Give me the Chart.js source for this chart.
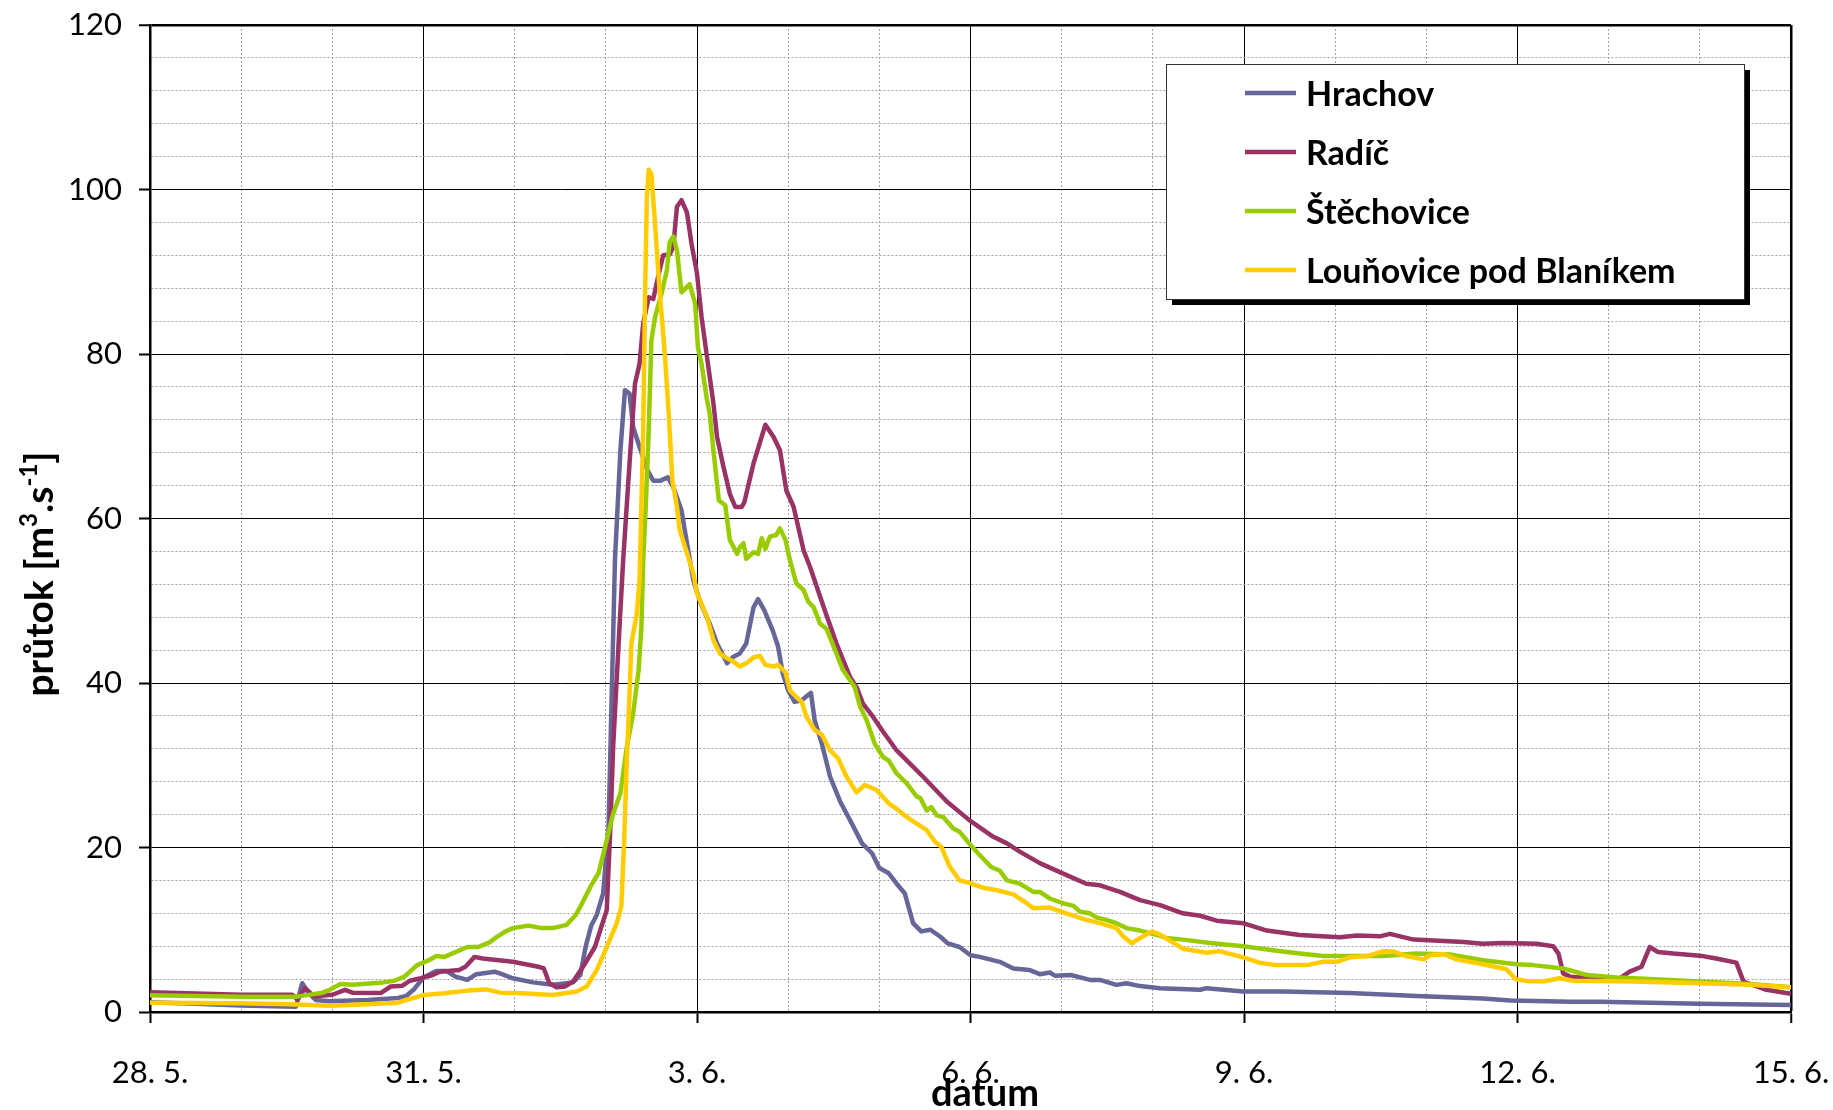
<!DOCTYPE html>
<html>
<head>
<meta charset="utf-8">
<title>průtok</title>
<script src="https://cdn.jsdelivr.net/npm/chart.js@4.4.1/dist/chart.umd.min.js"></script>
<style>
    html, body { margin: 0; padding: 0; background: #fff; }
    #wrap { width: 1833px; height: 1110px; }
</style>
</head>
<body>
<div id="wrap"><canvas id="flowChart" width="1833" height="1110"></canvas></div>
<script>
// x = days since 28. 5. (00:00), y = flow in m3/s
const dayLabels = ["28. 5.", "31. 5.", "3. 6.", "6. 6.", "9. 6.", "12. 6.", "15. 6."];
const seriesNames = ["Hrachov", "Radíč", "Štěchovice", "Louňovice pod Blaníkem"];
const seriesColors = ["#666699", "#993366", "#99cc00", "#ffcc00"];

const hrachovT = [0, 0.5, 1, 1.6, 1.67, 1.74, 1.82, 1.97, 2.39, 2.72, 2.81, 2.9, 3, 3.14, 3.25, 3.35, 3.48, 3.58, 3.78, 3.86, 3.98,
    4.2, 4.42, 4.64, 4.72, 4.78, 4.84, 4.9, 4.97, 5.03, 5.1, 5.16, 5.21, 5.26, 5.3, 5.37, 5.45, 5.52, 5.6, 5.68, 5.74, 5.83,
    5.89, 5.96, 6.03, 6.14, 6.22, 6.33, 6.4, 6.47, 6.54, 6.62, 6.67, 6.74, 6.83, 6.89, 6.94, 7, 7.07, 7.15, 7.25, 7.29, 7.37,
    7.46, 7.57, 7.68, 7.81, 7.92, 8, 8.1, 8.19, 8.28, 8.37, 8.46, 8.56, 8.67, 8.75, 8.88, 9, 9.1, 9.32, 9.47, 9.65, 9.76,
    9.87, 9.93, 10.1, 10.31, 10.42, 10.6, 10.71, 10.86, 11.08, 11.52, 11.59, 11.99, 12.43, 13.16, 13.89, 14.62, 14.92,
    15.58, 15.9, 17, 18];
const hrachovQ = [1.2, 1.0, 0.8, 0.65, 3.5, 2.3, 1.45, 1.3, 1.45, 1.7, 1.95, 2.8, 4.2, 5.0, 5.0, 4.3, 3.9, 4.6, 4.9, 4.6, 4.1,
    3.6, 3.3, 3.6, 4.5, 8.0, 10.5, 11.8, 14.4, 22.5, 54.9, 68.3, 75.6, 75.2, 71.1, 68.7, 66, 64.6, 64.6, 65, 63.8, 61,
    57, 52.5, 50, 47.2, 44.8, 42.4, 43.2, 43.6, 44.8, 49.2, 50.2, 48.8, 46.4, 44.4, 41.2, 39.1, 37.7, 37.9, 38.8, 35.5, 32.6,
    28.6, 25.6, 23.3, 20.5, 19.3, 17.5, 16.9, 15.6, 14.4, 10.8, 9.8, 10, 9.15, 8.35, 7.9, 6.9, 6.7, 6.1, 5.3, 5.1, 4.6,
    4.8, 4.4, 4.5, 3.9, 3.9, 3.3, 3.5, 3.15, 2.9, 2.7, 2.9, 2.5, 2.5, 2.3, 1.95, 1.65, 1.4,
    1.25, 1.25, 1.0, 0.85];

const radicT = [0, 1, 1.56, 1.62, 1.7, 1.8, 2, 2.14, 2.22, 2.53, 2.64, 2.77, 2.85, 2.97, 3.1, 3.18, 3.39, 3.46, 3.56, 3.65,
    3.98, 4.26, 4.32, 4.38, 4.46, 4.55, 4.64, 4.75, 4.88, 5.01, 5.05, 5.08, 5.14, 5.19, 5.26, 5.32, 5.37, 5.41, 5.47, 5.52,
    5.59, 5.63, 5.7, 5.74, 5.78, 5.83, 5.89, 5.94, 6, 6.05, 6.11, 6.18, 6.22, 6.29, 6.36, 6.42, 6.49, 6.52, 6.62, 6.75,
    6.84, 6.91, 6.98, 7.06, 7.17, 7.24, 7.39, 7.53, 7.68, 7.75, 7.82, 7.93, 8.04, 8.19, 8.3, 8.48, 8.74, 8.99, 9.25, 9.4,
    9.54, 9.76, 9.98, 10.27, 10.42, 10.64, 10.86, 11.08, 11.33, 11.52, 11.7, 11.99, 12.25, 12.61, 13.05, 13.24, 13.49, 13.6,
    13.86, 14.08, 14.41, 14.62, 14.84, 15.21, 15.39, 15.45, 15.5, 15.58, 15.79, 16.12, 16.23, 16.36, 16.45, 16.54, 16.71,
    17, 17.18, 17.4, 17.48, 17.73, 18];
const radicQ = [2.4, 2.1, 2.1, 1.5, 2.9, 1.9, 2.1, 2.7, 2.35, 2.3, 3.1, 3.2, 3.8, 4.1, 4.5, 4.9, 5.1, 5.5, 6.7, 6.5,
    6.1, 5.5, 5.3, 3.5, 3.0, 3.1, 3.7, 5.5, 7.9, 12.4, 22.5, 32.2, 44.8, 54.9, 66.7, 76.4, 78.8, 83.7, 86.9, 86.7,
    90.2, 92, 92.1, 93, 97.9, 98.7, 97.2, 93.4, 89.8, 84.5, 79.6, 74, 69.9, 66.3, 63, 61.4, 61.4, 62, 66.7, 71.4,
    69.9, 68.3, 63.4, 61.4, 56.1, 54.1, 49.2, 44.8, 40.7, 39.5, 37.5, 35.9, 34.1, 31.8, 30.6, 28.6, 25.6, 23.3, 21.3, 20.5,
    19.5, 18.1, 17, 15.6, 15.4, 14.6, 13.6, 13, 12, 11.7, 11.1, 10.8, 9.9, 9.35, 9.1, 9.3, 9.2, 9.5,
    8.8, 8.7, 8.5, 8.3, 8.4, 8.3, 8.0, 7.1, 4.7, 4.3, 4.1, 4.1, 4.9, 5.5, 7.9, 7.3, 7.1,
    6.85, 6.5, 6.0, 3.7, 2.7, 2.2];

const stechoviceT = [0, 1, 1.6, 1.72, 1.88, 1.97, 2.09, 2.22, 2.56, 2.68, 2.79, 2.93, 3.06, 3.14, 3.23, 3.48, 3.6, 3.73, 3.8,
    3.9, 3.98, 4.15, 4.3, 4.42, 4.57, 4.67, 4.72, 4.83, 4.92, 5.01, 5.08, 5.16, 5.23, 5.3, 5.36, 5.39, 5.41, 5.44, 5.47, 5.5,
    5.54, 5.61, 5.67, 5.7, 5.74, 5.78, 5.83, 5.92, 5.98, 6.01, 6.05, 6.11, 6.14, 6.18, 6.24, 6.31, 6.36, 6.44, 6.47, 6.51,
    6.54, 6.62, 6.67, 6.71, 6.75, 6.8, 6.87, 6.91, 6.97, 7.02, 7.09, 7.17, 7.22, 7.28, 7.35, 7.42, 7.5, 7.6, 7.68, 7.73,
    7.79, 7.86, 7.95, 8.04, 8.1, 8.19, 8.3, 8.41, 8.45, 8.52, 8.57, 8.63, 8.7, 8.81, 8.88, 9, 9.1, 9.23, 9.32, 9.4, 9.54,
    9.69, 9.76, 9.87, 10.02, 10.13, 10.2, 10.31, 10.38, 10.49, 10.6, 10.71, 10.86, 11.08, 11.15, 11.33, 11.63, 11.99,
    12.36, 12.61, 12.87, 13.53, 13.89, 14.26, 14.62, 14.99, 15.17, 15.5, 15.76, 16.09, 16.45, 17, 17.55, 18];
const stechoviceQ = [2.05, 1.86, 1.86, 2.05, 2.3, 2.7, 3.4, 3.3, 3.6, 3.8, 4.3, 5.7, 6.3, 6.8, 6.7, 7.9, 7.9, 8.5, 9.1,
    9.8, 10.2, 10.5, 10.2, 10.2, 10.6, 11.8, 12.8, 15.2, 16.9, 20.9, 24.1, 26.6, 32.2, 36.3, 41.6, 46.8, 54.9, 62, 70.7, 81.7,
    84.5, 87.3, 90.2, 93.6, 94.3, 92.6, 87.5, 88.5, 86.1, 80.8, 78.8, 74.4, 72.7, 68.3, 62.2, 61.6, 57.4, 55.7, 56.5, 57,
    55.1, 55.9, 55.7, 57.6, 56.3, 57.8, 58, 58.8, 57.4, 54.9, 52.1, 51.3, 49.9, 49.2, 47.2, 46.6, 44.4, 41.6, 40.3, 39.5,
    37.1, 35.5, 32.6, 31, 30.6, 29, 27.8, 26.2, 26, 24.5, 24.9, 23.9, 23.7, 22.3, 21.9, 20.3, 19.1, 17.6, 17.2, 16, 15.6,
    14.6, 14.6, 13.8, 13.2, 12.9, 12.2, 12, 11.5, 11.2, 10.8, 10.2, 9.9, 9.25, 9.0, 8.8, 8.4, 8.0,
    7.45, 7.1, 6.8, 6.8, 7.1, 7.0, 6.3, 5.8, 5.7, 5.3, 4.5, 4.2, 4.0, 3.7, 3.4, 3.0];

const lounoviceT = [0, 1, 1.55, 1.97, 2.39, 2.72, 2.81, 3, 3.23, 3.48, 3.69, 3.84, 4.07, 4.42, 4.68, 4.79, 4.9, 5.01, 5.12,
    5.17, 5.2, 5.23, 5.26, 5.28, 5.34, 5.37, 5.41, 5.43, 5.45, 5.47, 5.5, 5.54, 5.59, 5.65, 5.69, 5.73, 5.78, 5.81, 5.89,
    5.96, 6, 6.11, 6.18, 6.25, 6.33, 6.4, 6.47, 6.54, 6.62, 6.69, 6.75, 6.84, 6.89, 6.97, 7.02, 7.07, 7.15, 7.2, 7.29, 7.37,
    7.46, 7.55, 7.64, 7.75, 7.84, 7.97, 8.1, 8.19, 8.3, 8.41, 8.52, 8.61, 8.68, 8.77, 8.88, 8.99, 9.14, 9.29, 9.47, 9.62,
    9.69, 9.87, 10.05, 10.27, 10.42, 10.6, 10.68, 10.77, 10.86, 10.99, 11.08, 11.33, 11.59, 11.73, 11.99, 12.17, 12.36,
    12.69, 12.87, 13.02, 13.16, 13.35, 13.53, 13.64, 13.78, 13.97, 14.04, 14.19, 14.33, 14.62, 14.88, 14.98, 15.1, 15.28,
    15.46, 15.61, 16.27, 17, 17.55, 18];
const lounoviceQ = [1.13, 1.05, 0.93, 0.77, 0.93, 1.13, 1.46, 2.06, 2.27, 2.6, 2.75, 2.35, 2.27, 2.07, 2.5, 3.1, 5.1, 7.9, 10.8,
    12.8, 20.5, 30.6, 38.7, 44.8, 48.4, 52.5, 70.7, 86.9, 99.1, 102.4, 101.9, 95.8, 87.7, 79.6, 72.7, 64.6, 61.4, 58.6, 55.8,
    53.3, 50.9, 48, 45.2, 43.6, 43, 42.6, 42, 42.4, 43.1, 43.3, 42.2, 42, 42.2, 41.3, 39.1, 38.5, 37.7, 35.9, 34.3, 33.7,
    31.8, 30.8, 28.6, 26.7, 27.6, 27, 25.4, 24.7, 23.7, 22.9, 22.1, 20.7, 20.1, 17.7, 16, 15.7, 15.1, 14.8, 14.3, 13.2,
    12.6, 12.7, 12, 11.2, 10.8, 10.2, 9.15, 8.35, 9.0, 9.8, 9.4, 7.7, 7.2, 7.4, 6.65, 6.0, 5.7,
    5.7, 6.1, 6.1, 6.65, 6.8, 7.4, 7.35, 6.8, 6.4, 6.9, 7.05, 6.4, 5.8, 5.2, 4.0, 3.77, 3.7,
    4.1, 3.8, 3.7, 3.5, 3.3, 3.0];

const seriesT = [hrachovT, radicT, stechoviceT, lounoviceT];
const seriesQ = [hrachovQ, radicQ, stechoviceQ, lounoviceQ];

// Excel-like legend box with a hard shadow, top right inside the plot
const legendBox = {
    id: "legendBox",
    afterDraw(chart) {
        const c = chart.ctx;
        const area = chart.chartArea;
        const left = area.right - 625;
        const top = area.top + 39;
        const w = 578, h = 235;
        c.save();
        c.fillStyle = "#000";
        c.fillRect(left + 6, top + 6, w, h);
        c.fillStyle = "#fff";
        c.fillRect(left, top, w, h);
        c.strokeStyle = "#333";
        c.lineWidth = 1;
        c.strokeRect(left + 0.5, top + 0.5, w, h);
        c.font = "bold 34px Lato";
        c.textBaseline = "middle";
        c.textAlign = "left";
        chart.data.datasets.forEach((ds, i) => {
            const y = top + 29 + i * 59;
            c.strokeStyle = ds.borderColor;
            c.lineWidth = 4.5;
            c.beginPath();
            c.moveTo(left + 79, y);
            c.lineTo(left + 130, y);
            c.stroke();
            c.fillStyle = "#000";
            c.fillText(ds.label, left + 140, y + 2);
        });
        c.restore();
    }
};

// axis titles (y title needs superscripts)
const axisTitles = {
    id: "axisTitles",
    afterDraw(chart) {
        const c = chart.ctx;
        c.save();
        c.fillStyle = "#000";
        c.font = "bold 38px Lato";
        c.textAlign = "center";
        c.textBaseline = "alphabetic";
        c.fillText("datum", 985, 1106);

        const parts = [["průtok [m", false], ["3", true], [".s", false], ["-1", true], ["]", false]];
        const big = "bold 39px Lato";
        const small = "bold 24px Lato";
        let total = 0;
        parts.forEach(p => {
            c.font = p[1] ? small : big;
            total += c.measureText(p[0]).width;
        });
        c.translate(53, 574);
        c.rotate(-Math.PI / 2);
        c.textAlign = "left";
        let x = -total / 2;
        parts.forEach(p => {
            c.font = p[1] ? small : big;
            c.fillText(p[0], x, p[1] ? -16 : 0);
            x += c.measureText(p[0]).width;
        });
        c.restore();
    }
};

const datasets = seriesNames.map((name, i) => ({
    label: name,
    data: seriesT[i].map((t, k) => ({ x: t, y: seriesQ[i][k] })),
    borderColor: seriesColors[i],
    backgroundColor: seriesColors[i],
    borderWidth: 4.5,
    borderJoinStyle: "round",
    borderCapStyle: "round",
    pointRadius: 0,
    fill: false,
    tension: 0,
    order: seriesNames.length - i // later series drawn on top
}));

const isMajorX = v => Math.round(v) % 3 === 0;
const isMajorY = v => Math.round(v) % 20 === 0;

new Chart(document.getElementById("flowChart").getContext("2d"), {
    type: "line",
    data: { datasets: datasets },
    options: {
        responsive: false,
        animation: false,
        devicePixelRatio: 1,
        layout: { padding: { top: 25, right: 42, left: 0, bottom: 0 } },
        plugins: {
            legend: { display: false },
            tooltip: { enabled: false }
        },
        scales: {
            x: {
                type: "linear",
                min: 0,
                max: 18,
                afterFit: s => {
                    s.height = 98;
                    s.paddingLeft = 0;
                    s.paddingRight = 0;
                },
                ticks: {
                    stepSize: 1,
                    autoSkip: false,
                    maxRotation: 0,
                    padding: 31,
                    color: "#000",
                    font: { family: "Lato", size: 31 },
                    callback: v => isMajorX(v) ? dayLabels[Math.round(v) / 3] : ""
                },
                grid: {
                    color: ctx => isMajorX(ctx.tick.value) ? "#000" : "#a0a0a0",
                    lineWidth: ctx => ctx.tick.value === 18 ? 2.5 : 1,
                    tickColor: ctx => isMajorX(ctx.tick.value) ? "#000" : "rgba(0,0,0,0)",
                    tickWidth: 2,
                    tickLength: 11
                },
                border: {
                    color: "#000",
                    width: 2.5,
                    dash: ctx => (ctx.tick && !isMajorX(ctx.tick.value)) ? [2, 2] : []
                }
            },
            y: {
                min: 0,
                max: 120,
                afterFit: s => {
                    s.width = 150;
                    s.paddingTop = 0;
                    s.paddingBottom = 0;
                },
                ticks: {
                    stepSize: 4,
                    autoSkip: false,
                    padding: 17,
                    color: "#000",
                    font: { family: "Lato", size: 31 },
                    callback: v => isMajorY(v) ? Math.round(v) : ""
                },
                grid: {
                    color: ctx => isMajorY(ctx.tick.value) ? "#000" : "#a0a0a0",
                    lineWidth: ctx => ctx.tick.value === 120 ? 2.5 : 1,
                    tickColor: ctx => isMajorY(ctx.tick.value) ? "#000" : "rgba(0,0,0,0)",
                    tickWidth: 2,
                    tickLength: 11
                },
                border: {
                    color: "#000",
                    width: 2.5,
                    dash: ctx => (ctx.tick && !isMajorY(ctx.tick.value)) ? [2, 2] : []
                }
            }
        }
    },
    plugins: [legendBox, axisTitles]
});
</script>
</body>
</html>
